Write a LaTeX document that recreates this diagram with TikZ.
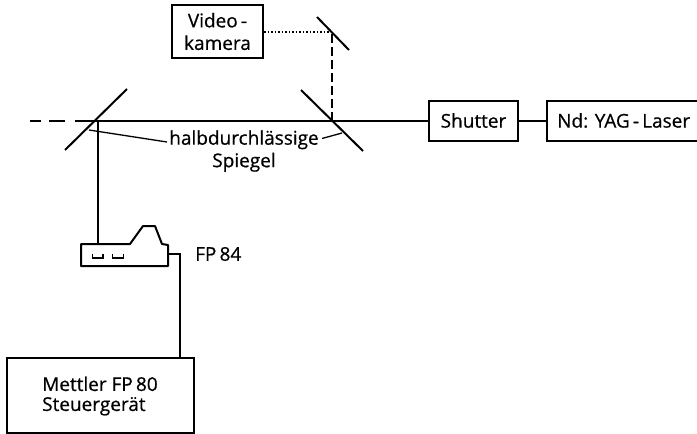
\documentclass[tikz,border=0pt]{standalone}
\usepackage{fontspec}
\setmainfont[FakeBold=0.6]{Open Sans}
\tikzset{
  pict/.style={x=1pt,y=-1pt},
  boxed/.style={draw,line width=2pt,inner sep=0pt,align=center,font=\fontsize{19}{22.5}\selectfont},
  rayline/.style={draw,line width=2pt},
  thinline/.style={draw,line width=1.3pt},
  labeltext/.style={inner sep=0pt,align=center,font=\fontsize{19}{22.5}\selectfont}
}
\begin{document}
\begin{tikzpicture}[pict]
\useasboundingbox (0,0) rectangle (697,434);
\node[boxed,minimum width=91pt,minimum height=53pt] (video) at (217.5,31.5) {Video\,-\\kamera};
\node[boxed,minimum width=89pt,minimum height=40pt] (shutter) at (473.5,120.5) {Shutter};
\node[labeltext,anchor=west] (lasertext) at (557,120.5) {Nd: YAG\,-\,Laser};
\coordinate (lasertl) at (697,100.5); \coordinate (laserbl) at (697,141);
\coordinate (laserw) at (547,120.5);
\draw[line width=2pt] (lasertl) -- (547,100.5) -- (547,141) -- (laserbl);
\node[boxed,minimum width=187pt,minimum height=75pt] (ctrl) at (100.5,395.5) {};
\node[labeltext,anchor=west,align=left] (ctrltext) at (42,396) {Mettler FP\,80\\[-2.5pt]Steuergerät};
\node[labeltext] (halb) at (244,151) {halbdurchlässige\\Spiegel};
\node[labeltext,anchor=west] (fp) at (195,254) {FP\,84};
% mirrors
\coordinate (m1a) at (65,150); \coordinate (m1b) at (127,89);
\coordinate (m2a) at (301,90); \coordinate (m2b) at (363,151);
\coordinate (m3a) at (317,17); \coordinate (m3b) at (349,50);
\path[rayline] (m1a) -- (m1b);
\path[rayline] (m2a) -- (m2b);
\path[rayline] (m3a) -- (m3b);
% beam path
\coordinate (hit1) at (98,120.5);
\coordinate (hit2) at (332,120.5);
\coordinate (hit3) at (332,32);
\coordinate (far) at (30,120.5);
\path[rayline] (shutter.west) -- (hit2) -- (hit1);
\path[rayline] (shutter.east) -- (laserw);
\path[rayline,dash pattern=on 23pt off 10pt on 16pt off 8pt on 11pt off 2pt] (hit1) -- (far);
\path[thinline,dash pattern=on 9pt off 4pt] (hit2) -- (hit3);
\path[thinline,dash pattern=on 1.5pt off 2pt] (video.east |- hit3) -- (hit3);
% leaders
\coordinate (l1) at (89,130); \coordinate (l1e) at (167,142);
\coordinate (l2) at (342,133); \coordinate (l2e) at (322,138.5);
\path[thinline] (l1) -- (l1e);
\path[thinline] (l2) -- (l2e);
% FP84
\draw[line width=2pt,line join=round,fill=white] (81,244) -- (130,244) -- (143,226) -- (155,226) -- (162,244) -- (168,245) -- (168,266) -- (81,266) -- cycle;
\path[thinline] (92.5,254) -- (92.5,258) -- (103,258) -- (103,254);
\path[thinline] (112.5,254) -- (112.5,258) -- (123.5,258) -- (123.5,254);
\coordinate (devtop) at (98,244);
\coordinate (devport) at (168,254);
\path[rayline] (hit1) -- (devtop);
\path[rayline] (devport) -- (180,254) -- (180,358);
\end{tikzpicture}
\end{document}
